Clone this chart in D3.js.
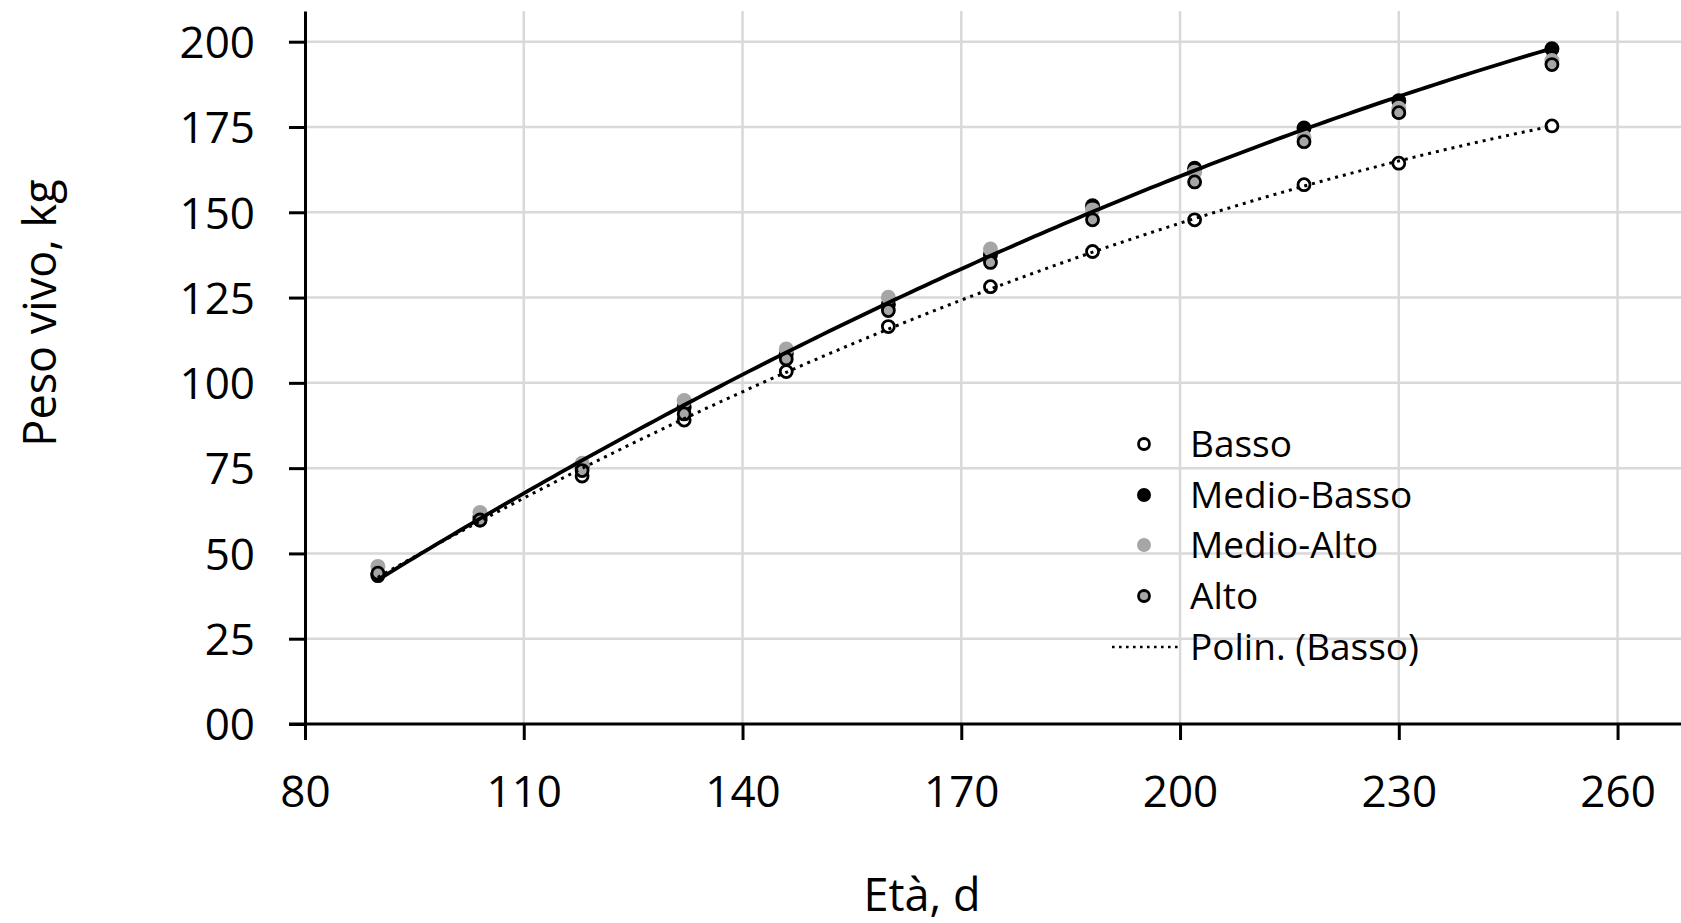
<!DOCTYPE html>
<html>
<head>
<meta charset="utf-8">
<script src="https://cdn.jsdelivr.net/npm/d3@7"></script>
<style>
  body { margin: 0; background: #fff; }
  svg { display: block; font-family: "Open Sans", sans-serif; }
  .grid line { stroke: #d9d9d9; stroke-width: 2.5; }
</style>
</head>
<body>
<div id="chart"></div>
<script>
// data
var eta        = [90, 104, 118, 132, 146, 160, 174, 188, 202, 217, 230, 251];
var basso      = [44.0, 59.8, 72.7, 89.1, 103.3, 116.5, 128.2, 138.5, 147.8, 158.1, 164.4, 175.3];
var medioBasso = [43.5, 60.5, 75.5, 92.9, 108.5, 123.0, 137.5, 151.9, 162.9, 174.7, 182.7, 197.9];
var medioAlto  = [46.2, 62.0, 76.4, 94.8, 109.9, 125.1, 139.2, 150.7, 161.7, 172.0, 180.5, 194.5];
var alto       = [44.2, 59.8, 74.3, 90.9, 107.0, 121.2, 135.3, 147.8, 158.9, 170.7, 179.2, 193.3];

var xTicks = [80, 110, 140, 170, 200, 230, 260];
var yTicks = [0, 25, 50, 75, 100, 125, 150, 175, 200];
var legendLabels = ["Basso", "Medio-Basso", "Medio-Alto", "Alto", "Polin. (Basso)"];

var width = 1681, height = 923;

var svg = d3.select("#chart").append("svg")
  .attr("width", width)
  .attr("height", height);

var x = d3.scaleLinear().domain([80, 268.7]).range([305, 1681]);
var y = d3.scaleLinear().domain([0, 209]).range([724, 11]);

// gridlines
svg.append("g").attr("class", "grid")
  .selectAll("line").data(yTicks.slice(1)).join("line")
    .attr("x1", x(80)).attr("x2", width)
    .attr("y1", d => y(d)).attr("y2", d => y(d));
svg.append("g").attr("class", "grid")
  .selectAll("line").data(xTicks.slice(1)).join("line")
    .attr("x1", d => x(d)).attr("x2", d => x(d))
    .attr("y1", y(209)).attr("y2", y(0));

// axes
var xAxis = svg.append("g")
  .attr("transform", "translate(0," + y(0) + ")")
  .call(d3.axisBottom(x).tickValues(xTicks).tickSize(16).tickPadding(36).tickSizeOuter(0));
var yAxis = svg.append("g")
  .attr("transform", "translate(" + x(80) + ",0)")
  .call(d3.axisLeft(y).tickValues(yTicks).tickSize(16).tickPadding(34).tickSizeOuter(0)
    .tickFormat(d3.format("02d")));

[xAxis, yAxis].forEach(function(a){
  a.select(".domain").attr("stroke", "#000").attr("stroke-width", 3);
  a.selectAll(".tick line").attr("stroke", "#000").attr("stroke-width", 3);
  a.selectAll(".tick text").attr("fill", "#000")
    .style("font-size", "44px").style("font-family", "Open Sans");
});
// extend the x axis line to the left tick edge
xAxis.select(".domain").attr("d", "M" + (x(80) - 16) + ",0H" + width);
yAxis.selectAll(".tick text").attr("dy", "0.36em");
xAxis.selectAll(".tick text").attr("dy", "0.71em");

// axis titles
svg.append("text")
  .attr("transform", "translate(56," + 313 + ") rotate(-90)")
  .attr("text-anchor", "middle")
  .style("font-size", "45px")
  .text("Peso vivo, kg");
svg.append("text")
  .attr("x", 922).attr("y", 911)
  .attr("text-anchor", "middle")
  .style("font-size", "45px")
  .text("Età, d");

// quadratic least squares, like an Excel polynomial trendline
function polyFit2(X, Y){
  var n = X.length, sx = 0, sx2 = 0, sx3 = 0, sx4 = 0, sy = 0, sxy = 0, sx2y = 0;
  for (var i = 0; i < n; i++){
    var a = X[i], b = Y[i];
    sx += a; sx2 += a*a; sx3 += a*a*a; sx4 += a*a*a*a;
    sy += b; sxy += a*b; sx2y += a*a*b;
  }
  var M = [[n, sx, sx2, sy], [sx, sx2, sx3, sxy], [sx2, sx3, sx4, sx2y]];
  for (var c = 0; c < 3; c++){
    for (var r = c + 1; r < 3; r++){
      var f = M[r][c] / M[c][c];
      for (var k = c; k < 4; k++) M[r][k] -= f * M[c][k];
    }
  }
  var coef = [0, 0, 0];
  for (var r = 2; r >= 0; r--){
    var s = M[r][3];
    for (var k = r + 1; k < 3; k++) s -= M[r][k] * coef[k];
    coef[r] = s / M[r][r];
  }
  return function(t){ return coef[0] + coef[1]*t + coef[2]*t*t; };
}

function trendPoints(X, Y){
  var f = polyFit2(X, Y), pts = [];
  var x0 = d3.min(X), x1 = d3.max(X);
  for (var t = x0; t <= x1 + 0.001; t += 1) pts.push([t, f(t)]);
  return pts;
}

var line = d3.line().x(d => x(d[0])).y(d => y(d[1]));

// markers
var series = [
  {vals: basso,      r: 6,   fill: "#fff",    stroke: "#000", sw: 2.8},
  {vals: medioBasso, r: 7.5, fill: "#000",    stroke: "none", sw: 0},
  {vals: medioAlto,  r: 7.5, fill: "#a6a6a6", stroke: "none", sw: 0},
  {vals: alto,       r: 6,   fill: "#a6a6a6", stroke: "#000", sw: 2.8}
];
series.forEach(function(s){
  svg.append("g").selectAll("circle").data(eta).join("circle")
    .attr("cx", d => x(d))
    .attr("cy", (d, i) => y(s.vals[i]))
    .attr("r", s.r)
    .attr("fill", s.fill)
    .attr("stroke", s.stroke)
    .attr("stroke-width", s.sw);
});

// trendlines
svg.append("path")
  .datum(trendPoints(eta, basso))
  .attr("d", line)
  .attr("fill", "none")
  .attr("stroke", "#000")
  .attr("stroke-width", 3)
  .attr("stroke-dasharray", "3,5");
svg.append("path")
  .datum(trendPoints(eta, medioBasso))
  .attr("d", line)
  .attr("fill", "none")
  .attr("stroke", "#000")
  .attr("stroke-width", 3.8);

// legend
var legend = svg.append("g");
var rowY = [444, 495, 545, 596, 647];
legendLabels.forEach(function(lab, i){
  var g = legend.append("g").attr("transform", "translate(0," + rowY[i] + ")");
  if (i < 4){
    var s = series[i];
    g.append("circle").attr("cx", 1144).attr("cy", 0)
      .attr("r", s.r - 0.5).attr("fill", s.fill)
      .attr("stroke", s.stroke).attr("stroke-width", s.sw);
  } else {
    g.append("line").attr("x1", 1112).attr("x2", 1180)
      .attr("y1", 0).attr("y2", 0)
      .attr("stroke", "#000").attr("stroke-width", 2.6)
      .attr("stroke-dasharray", "2.6,4.4");
  }
  g.append("text").attr("x", 1190).attr("y", 13)
    .style("font-size", "37px")
    .text(lab);
});
</script>
</body>
</html>
